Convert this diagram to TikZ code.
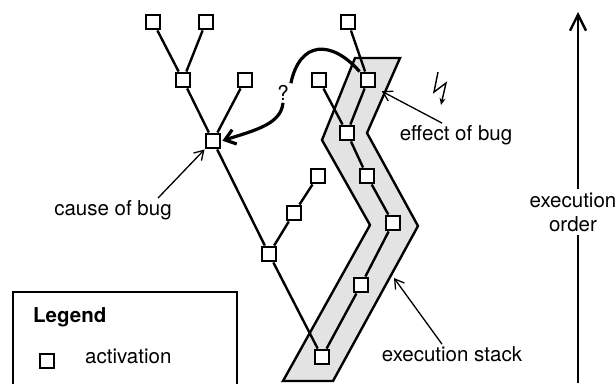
\documentclass[tikz,border=0pt]{standalone}
\usepackage{fontspec}
\setmainfont{TeX Gyre Heros}
\usetikzlibrary{arrows.meta}

\begin{document}
\begin{tikzpicture}[x=1pt, y=-1pt, font=\fontsize{20.5}{24}\selectfont,
        act/.style={draw, line width=2.4pt, fill=white, minimum size=14.5pt, inner sep=0pt},
        call/.style={line width=2.4pt},
        lbl/.style={inner sep=2pt},
        note/.style={line width=1.3pt, -{Straight Barb[length=9pt,width=11pt]}}]
    \useasboundingbox (0,0) rectangle (616,383);
    \clip (0,0) rectangle (616,383);
    %% Execution stack band
    \draw[line width=2.4pt, fill=black!11]
        (355,58) -- (400,58) -- (367,133) -- (418,226) -- (333,381)
        -- (283,381) -- (370,225) -- (322,140) -- cycle;
    %% Activations
    \node[act] (a1) at (153,22) {};
    \node[act] (a2) at (206,22) {};
    \node[act] (b) at (183,80) {};
    \node[act] (c) at (245,80) {};
    \node[act] (d) at (213,141) {};
    \node[act] (o) at (269,254) {};
    \node[act] (n) at (294,213) {};
    \node[act] (m) at (318,176) {};
    \node[act] (e) at (348,22) {};
    \node[act] (f) at (319,80) {};
    \node[act] (g) at (368,80) {};
    \node[act] (h) at (347,133) {};
    \node[act] (i) at (367,176) {};
    \node[act] (j) at (393,223) {};
    \node[act] (k) at (361,285) {};
    \node[act] (l) at (322,357) {};
    %% Calls
    \draw[call] (a1) -- (b);
    \draw[call] (a2) -- (b);
    \draw[call] (b) -- (d);
    \draw[call] (c) -- (d);
    \draw[call] (d) -- (o);
    \draw[call] (o) -- (n);
    \draw[call] (n) -- (m);
    \draw[call] (o) -- (l);
    \draw[call] (e) -- (g);
    \draw[call] (f) -- (h);
    \draw[call] (g) -- (h);
    \draw[call] (h) -- (i);
    \draw[call] (i) -- (j);
    \draw[call] (j) -- (k);
    \draw[call] (k) -- (l);
    %% Text Nodes
    \node[lbl] (q) at (283,93) {?};
    \node[lbl] (cause) at (113,210) {cause of bug};
    \node[lbl] (effect) at (456,135) {effect of bug};
    \node[lbl] (stacklbl) at (452,354) {execution stack};
    \coordinate (stackpt) at (394,278);
    %% Bug link
    \draw[line width=3.2pt] (q.north east) .. controls (300,40) and (332,40) .. (g.north west);
    \draw[line width=3.2pt, -{Straight Barb[length=10pt,width=15pt]}, shorten >=1pt]
        (q.south) .. controls (281,124) and (256,130) .. (d.east);
    %% Notes
    \draw[note] ([xshift=45pt]cause.north) -- (d.south west);
    \draw[note, shorten >=6pt] ([xshift=-14pt]effect.north) -- (g.south east);
    \draw[note] ([xshift=-10pt]stacklbl.north) -- (stackpt);
    \draw[line width=1.4pt, -{Stealth[length=7pt,width=6pt]}]
        (438,72) -- (434,92) -- (446,83) -- (441,105);
    %% Execution order
    \coordinate (ordtop) at (578,12);
    \coordinate (ordbot) at (578,383);
    \node[align=center, inner sep=3pt] (ordlbl) at (573,212) {execution\\order};
    \draw[line width=2.4pt] (ordbot) -- (ordbot |- ordlbl.south);
    \draw[line width=2.4pt, -{Straight Barb[length=16pt,width=16pt]}]
        (ordtop |- ordlbl.north) -- (ordtop);
    %% Legend
    \draw[line width=2.4pt] (13,292) rectangle (237,400);
    \node[anchor=west, inner sep=0pt, font=\fontsize{20.5}{24}\selectfont\bfseries]
        (legendttl) at (33,317) {Legend};
    \node[act, minimum size=13.5pt] (legendact) at (47,361) {};
    \node[anchor=west, inner sep=0pt] (legendtxt) at (85,356) {activation};
\end{tikzpicture}
\end{document}
